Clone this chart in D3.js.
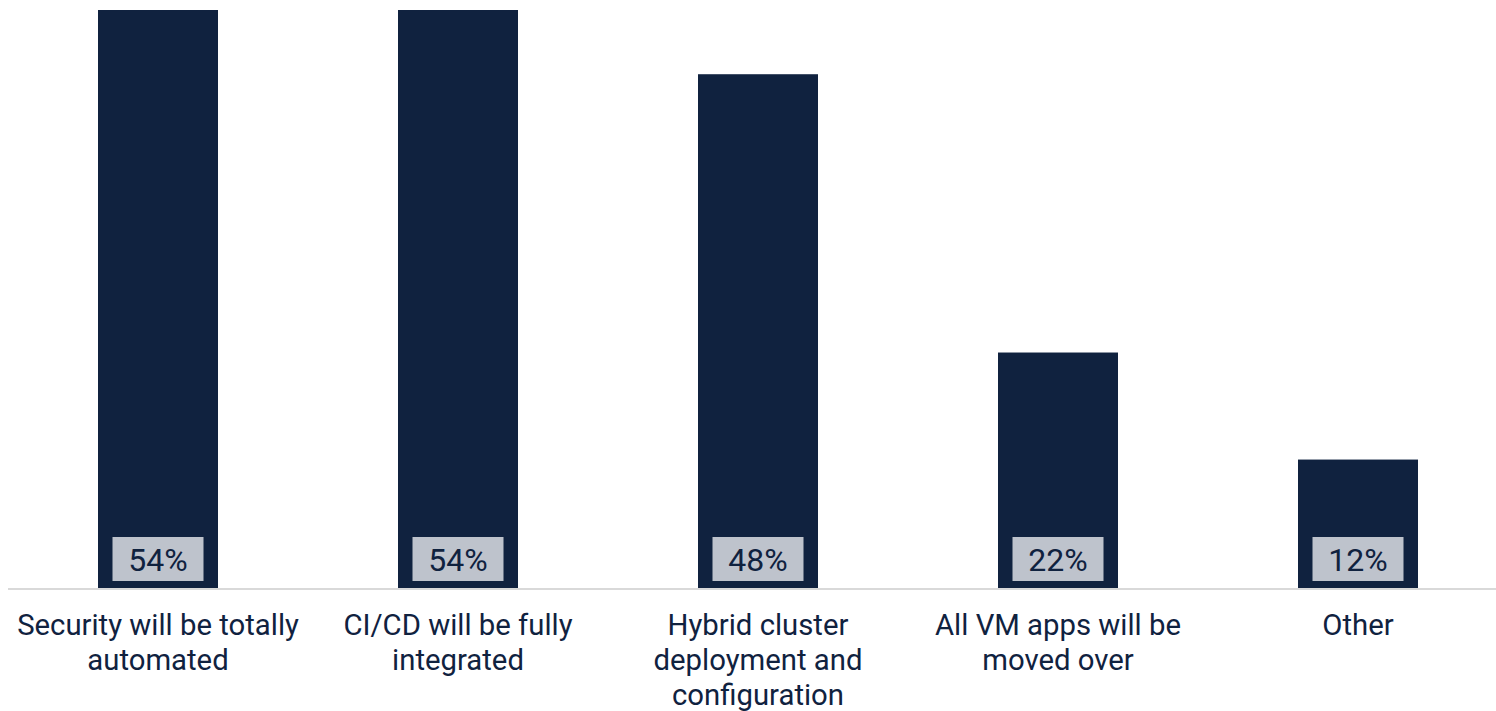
<!DOCTYPE html>
<html>
<head>
<meta charset="utf-8">
<script src="https://cdn.jsdelivr.net/npm/d3@7"></script>
<style>
  html, body { margin: 0; padding: 0; background: #fff; }
  svg { display: block; font-family: Roboto, "Noto Sans", sans-serif; }
</style>
</head>
<body>
<svg id="chart" width="1496" height="711"></svg>
<script>
// survey answers
var categories = [
    ["Security will be totally", "automated"],
    ["CI/CD will be fully", "integrated"],
    ["Hybrid cluster", "deployment and", "configuration"],
    ["All VM apps will be", "moved over"],
    ["Other"]
];
var values = [54, 54, 48, 22, 12];

var navy = "#10223f";
var boxFill = "#bec3cc";

var svg = d3.select("#chart");
var baseY = 588;

var x = d3.scaleBand()
    .domain(d3.range(values.length))
    .range([8, 1508])
    .paddingInner(0.6)
    .paddingOuter(0.3);

var y = d3.scaleLinear()
    .domain([0, 54])
    .range([baseY, 10]);

// bars
svg.append("g").selectAll("rect")
    .data(values)
    .enter()
    .append("rect")
    .attr("x", function(d, i) { return x(i); })
    .attr("y", function(d) { return y(d); })
    .attr("width", x.bandwidth())
    .attr("height", function(d) { return baseY - y(d); })
    .attr("fill", navy);

// baseline
svg.append("line")
    .attr("x1", 8)
    .attr("x2", 1496)
    .attr("y1", baseY + 1)
    .attr("y2", baseY + 1)
    .attr("stroke", "#d9d9d9")
    .attr("stroke-width", 2);

// value labels in light boxes
var lab = svg.append("g").selectAll("g")
    .data(values)
    .enter()
    .append("g")
    .attr("transform", function(d, i) {
        return "translate(" + (x(i) + x.bandwidth() / 2) + "," + (baseY - 7) + ")";
    });
lab.append("rect")
    .attr("x", -45.5)
    .attr("y", -44)
    .attr("width", 91)
    .attr("height", 44)
    .attr("fill", boxFill);
lab.append("text")
    .attr("text-anchor", "middle")
    .attr("y", -10.5)
    .attr("font-size", 32)
    .attr("fill", navy)
    .text(function(d) { return d + "%"; });

// category labels
var cat = svg.append("g").selectAll("text")
    .data(categories)
    .enter()
    .append("text")
    .attr("text-anchor", "middle")
    .attr("font-size", 29.3)
    .attr("fill", navy)
    .attr("transform", function(d, i) {
        return "translate(" + (x(i) + x.bandwidth() / 2) + ",635)";
    });
cat.selectAll("tspan")
    .data(function(d) { return d; })
    .enter()
    .append("tspan")
    .attr("x", 0)
    .attr("y", function(d, j) { return j * 35; })
    .text(function(d) { return d; });
</script>
</body>
</html>
